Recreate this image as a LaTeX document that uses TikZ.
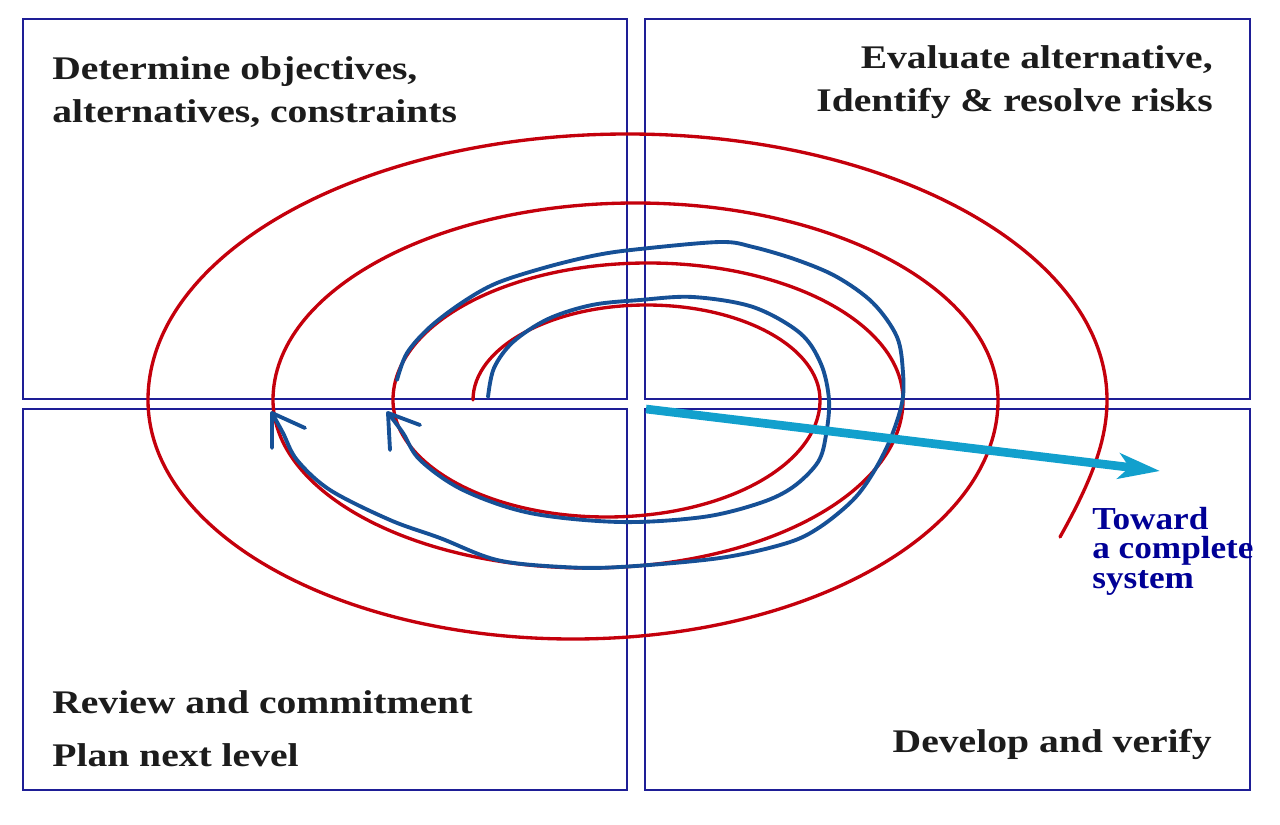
\documentclass[tikz,border=0pt]{standalone}
\usepackage{fontspec}
\setmainfont{Liberation Serif}
\usetikzlibrary{arrows.meta}

\definecolor{spiralred}{RGB}{196,0,12}
\definecolor{passblue}{RGB}{22,80,150}
\definecolor{arrowcyan}{RGB}{18,160,205}
\definecolor{boxnavy}{RGB}{30,30,150}
\definecolor{labelnavy}{RGB}{0,0,150}
\definecolor{labelblack}{RGB}{28,28,28}

\tikzset{
  quadbox/.style={draw=boxnavy, line width=1.1pt},
  redspiral/.style={draw=spiralred, line width=2.5pt, line cap=round},
  bluepass/.style={draw=passblue, line width=2.9pt, line cap=round, line join=round},
  quadlabel/.style={inner sep=0pt, xscale=1.2, text=labelblack,
    font=\fontsize{24.75}{32.25}\selectfont\bfseries},
  outlabel/.style={inner sep=0pt, xscale=1.1, text=labelnavy,
    font=\fontsize{24}{22}\selectfont\bfseries}
}

\begin{document}
\begin{tikzpicture}[x=0.75pt, y=-0.75pt]
    \useasboundingbox (0,0) rectangle (1280,824);

    % four quadrants
    \foreach \xa/\ya/\xb/\yb in {23/19/627/399, 645/19/1250/399, 23/409/627/790, 645/409/1250/790} {
        \draw[quadbox] (\xa,\ya) rectangle (\xb,\yb);
    }

    % spiral, half ellipses round the axis y=400
    \draw[redspiral] (473,400)
        \foreach \a/\rx/\ry in {180/173.5/95, 0/213.5/117, 180/255/137, 0/315/168,
                                180/362.5/197, 0/425/239, 180/479.5/266} {
            arc[start angle=\a, delta angle=180, x radius=\rx, y radius=\ry]
        }
        .. controls (1107,440) and (1092,480) .. (1060,537);

    % inner pass
    \draw[bluepass] plot[smooth, tension=0.55] coordinates {
        (488,397) (494,368) (513,342) (548,319) (592,305) (640,300) (693,297)
        (753,307) (800,333) (821,364) (829,400) (826,435) (818,462)
        (793,487) (760,503) (703,517) (620,522) (530,513) (463,490) (420,460)
        (403,433) (388,413)};
    \draw[bluepass] (390,450) -- (388,413) -- (420,425);

    % outer pass
    \draw[bluepass] plot[smooth, tension=0.55] coordinates {
        (397,380) (407,353) (430,327) (463,302) (497,283) (547,267) (597,255)
        (640,249) (720,242) (753,247) (797,260) (837,277) (873,303)
        (897,337) (903,373) (902,403) (890,440) (873,473) (853,500) (820,527)
        (787,543) (720,558) (620,567) (563,567) (497,560) (440,538) (390,520)
        (330,490) (297,460) (283,433) (272,413)};
    \draw[bluepass] (272,448) -- (272,413) -- (305,428);

    % growth direction
    \coordinate (start) at (646,409);
    \coordinate (goal) at (1160,471);
    \draw[arrowcyan, line width=6.5pt,
          -{Stealth[length=31pt, width=19pt, inset=8pt]}] (start) -- (goal);

    \node[quadlabel, anchor=north west, align=left] (objectives) at (52,56)
        {Determine objectives,\\alternatives, constraints};
    \node[quadlabel, anchor=north east, align=right] (risks) at (1213,45)
        {Evaluate alternative,\\Identify \& resolve risks};
    \node[quadlabel, anchor=north west, align=left] (review) at (52,690)
        {Review and commitment\\[7.5pt]Plan next level};
    \node[quadlabel, anchor=base east] (develop) at (1212,752) {Develop and verify};
    \node[outlabel, anchor=north west, align=left] (toward) at (1092,507)
        {Toward\\a complete\\system};
\end{tikzpicture}
\end{document}
